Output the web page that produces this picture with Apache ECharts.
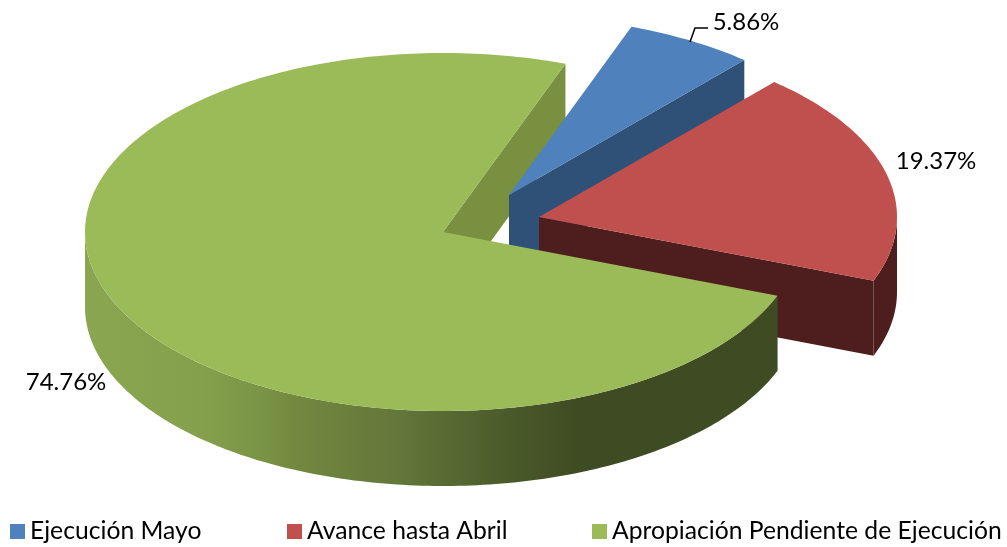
<!DOCTYPE html>
<html>
<head>
<meta charset="utf-8">
<style>
  html, body { margin: 0; padding: 0; background: #fff; }
  #chart { width: 1007px; height: 547px; }
</style>
<script src="https://cdn.jsdelivr.net/npm/echarts@6/dist/echarts.min.js"></script>
</head>
<body>
<div id="chart"></div>
<script>
// data
const categories = ['Ejecución Mayo', 'Avance hasta Abril', 'Apropiación Pendiente de Ejecución'];
const sliceValues = [5.86, 19.37, 74.76];

// colours per slice
const topColors = ['#4F81BD', '#C0504D', '#9BBB59'];
const wallColors = ['#2F5077', '#4E1E1E', '#78903F'];

// pie geometry (fake 3D: flattened ellipse plus a vertical extrusion)
const RX = 358;
const RY = 179;
const DEPTH = 75;
const START_ANGLE = 70; // degrees, slices run clockwise
const TOTAL = sliceValues.reduce((a, b) => a + b, 0);

// where each exploded slice has its vertex
const vertex = [[509, 195], [539, 217], [443, 232]];
// label centres and legend left edges
const labelPos = [[746, 22], [936, 161], [66, 382]];
const legendLeft = [10, 287, 592];

// angle range of a slice
function sliceRange(i) {
  let before = 0;
  for (let k = 0; k < i; k++) before += sliceValues[k];
  const from = START_ANGLE - before / TOTAL * 360;
  const to = from - sliceValues[i] / TOTAL * 360;
  return [from, to];
}

function arcPoint(i, deg, dy) {
  const rad = deg * Math.PI / 180;
  return [vertex[i][0] + RX * Math.cos(rad), vertex[i][1] - RY * Math.sin(rad) + (dy || 0)];
}

function arcPoints(i, from, to, dy) {
  const pts = [];
  const steps = Math.max(2, Math.ceil(Math.abs(from - to)));
  for (let s = 0; s <= steps; s++) {
    pts.push(arcPoint(i, from + (to - from) * s / steps, dy));
  }
  return pts;
}

// the cut face at the clockwise end of a slice
function cutWall(i) {
  const end = sliceRange(i)[1];
  return {
    type: 'polygon',
    shape: { points: [vertex[i], arcPoint(i, end), arcPoint(i, end, DEPTH), [vertex[i][0], vertex[i][1] + DEPTH]] },
    style: { fill: wallColors[i] }
  };
}

// the rim, only the part that faces the viewer (0 to -180 degrees)
function rimWall(i, fill) {
  const range = sliceRange(i);
  const from = Math.min(range[0], 0);
  const to = Math.max(range[1], -180);
  if (from <= to) return null;
  const top = arcPoints(i, from, to, 0);
  const bottom = arcPoints(i, to, from, DEPTH);
  return {
    type: 'polygon',
    shape: { points: top.concat(bottom) },
    style: { fill: fill }
  };
}

function topFace(i) {
  const range = sliceRange(i);
  return {
    type: 'polygon',
    shape: { points: [vertex[i]].concat(arcPoints(i, range[0], range[1], 0)) },
    style: { fill: topColors[i] }
  };
}

function valueLabel(i) {
  return {
    type: 'text',
    style: {
      text: sliceValues[i].toFixed(2) + '%',
      x: labelPos[i][0],
      y: labelPos[i][1],
      align: 'center',
      verticalAlign: 'middle',
      font: '24px Lato, sans-serif',
      fill: '#000'
    }
  };
}

// green rim shading runs across the whole chart
const greenRim = new echarts.graphic.LinearGradient(85, 0, 778, 0, [
  { offset: 0, color: '#8BA650' },
  { offset: 0.17, color: '#85A04C' },
  { offset: 0.25, color: '#7A9446' },
  { offset: 0.31, color: '#72873F' },
  { offset: 0.455, color: '#62773A' },
  { offset: 0.6, color: '#4C5C2B' },
  { offset: 0.714, color: '#3F4B23' },
  { offset: 1, color: '#3F4B23' }
], true);

function renderSlice(i) {
  return function () {
    const children = [];
    if (i !== 2) children.push(cutWall(i));
    const rim = rimWall(i, i === 2 ? greenRim : wallColors[i]);
    if (rim) children.push(rim);
    children.push(topFace(i));
    children.push(valueLabel(i));
    if (i === 0) {
      // leader line of the small slice
      children.push({
        type: 'polyline',
        shape: { points: [[690, 42], [695, 28], [708, 28]] },
        style: { stroke: '#000', lineWidth: 1.5, fill: null }
      });
    }
    return { type: 'group', children: children };
  };
}

const chart = echarts.init(document.getElementById('chart'));

const series = [
  {
    // green cut face sits behind the other slices
    type: 'custom',
    name: 'wall',
    coordinateSystem: 'none',
    silent: true,
    data: [0],
    renderItem: function () { return cutWall(2); }
  }
];
categories.forEach(function (name, i) {
  series.push({
    type: 'custom',
    name: name,
    coordinateSystem: 'none',
    silent: true,
    itemStyle: { color: topColors[i] },
    data: [sliceValues[i]],
    renderItem: renderSlice(i)
  });
});

chart.setOption({
  animation: false,
  backgroundColor: '#fff',
  legend: categories.map(function (name, i) {
    return {
      data: [name],
      left: legendLeft[i],
      top: 519,
      padding: 0,
      icon: 'rect',
      itemWidth: 15,
      itemHeight: 15,
      selectedMode: false,
      textStyle: { fontFamily: 'Lato, sans-serif', fontSize: 24.7, color: '#000' }
    };
  }),
  series: series
});

window.addEventListener('resize', () => chart.resize());
</script>
</body>
</html>
